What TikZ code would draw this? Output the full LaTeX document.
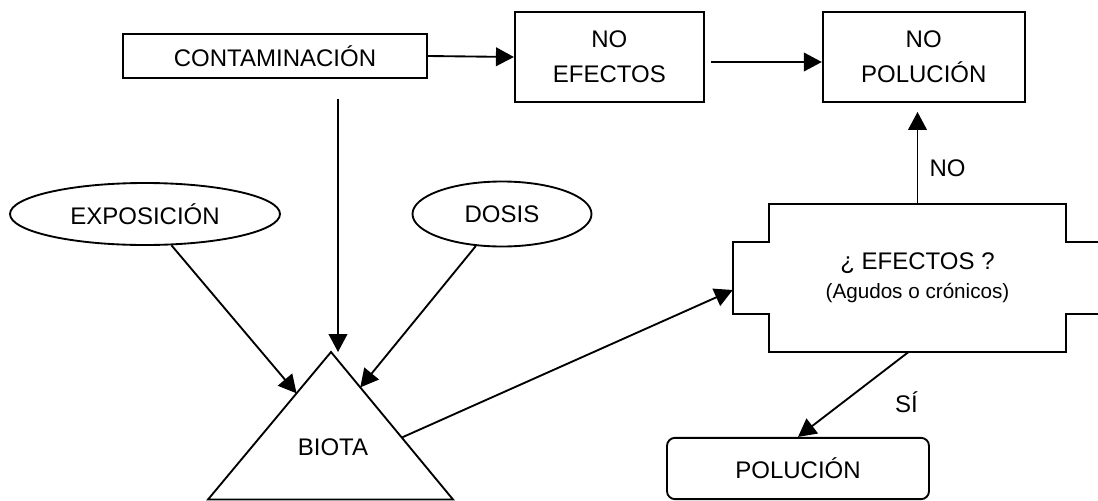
\documentclass[tikz,border=0pt]{standalone}
\usepackage{fontspec}
\setmainfont{Liberation Sans}
\usetikzlibrary{shapes, arrows.meta, positioning, calc}

\begin{document}
\begin{tikzpicture}[
  x=0.75pt, y=-0.75pt,
  every node/.style={font=\fontsize{18}{22}\selectfont},
  box/.style={rectangle, draw, line width=1.4pt, text centered, inner sep=0pt},
  twoline/.style={box, align=center, font=\fontsize{18}{26.5}\selectfont},
  oval/.style={ellipse, draw, line width=1.4pt, inner sep=0pt},
  arrow/.style={-{Triangle[length=13.5pt, width=14pt]}, line width=1.4pt}
]
\useasboundingbox (0,0) rectangle (1098,500);

%% --- Top row ---
\node[box, minimum width=228pt, minimum height=33pt] (contam) at (275,56) {CONTAMINACIÓN};
\node[twoline, minimum width=141.75pt, minimum height=67.5pt,
      right=64.5pt of contam, yshift=-0.75pt] (noefectos) {NO\\EFECTOS};
\node[twoline, minimum width=151.5pt, minimum height=67.5pt,
      right=87.75pt of noefectos] (nopol) {NO\\POLUCIÓN};

%% --- Ellipses ---
\node[oval, minimum width=202.5pt, minimum height=46.5pt] (expo) at (145,214) {EXPOSICIÓN};
\node[oval, minimum width=134.25pt, minimum height=48.75pt] (dosis) at (502,214) {DOSIS};

%% --- Biota triangle ---
\coordinate (apex) at (331,352);
\coordinate (bl) at (208,499.5);
\coordinate (br) at (453,499.5);
\draw[line width=1.4pt] (apex) -- (bl) -- (br) -- cycle;
\node (biota) at (333,447) {BIOTA};

%% --- Efectos (cross-shaped box) ---
\node[align=center, minimum width=222.75pt, minimum height=111pt, inner sep=0pt]
    (efectos) at (917.5,278)
    {¿ EFECTOS ?\\{\fontsize{15.5}{18}\selectfont (Agudos o crónicos)}};
\draw[line width=1.4pt] (efectos.north west) -- (efectos.north east)
    -- ++(0,38) -- ++(36,0) -- ++(0,72) -- ++(-36,0)
    -- (efectos.south east) -- (efectos.south west)
    -- ++(0,-38) -- ++(-36,0) -- ++(0,-72) -- ++(36,0) -- cycle;
\coordinate (efin) at ($(efectos.west)+(-36,12)$);

%% --- Polucion ---
\node[box, rounded corners=6pt, minimum width=196.5pt, minimum height=46pt]
    (pol) at (798,468.5) {POLUCIÓN};

%% --- Connectors ---
\draw[arrow] (contam.east) -- (noefectos.west);
\draw[arrow, shorten <=5pt] ([yshift=-3.75pt]noefectos.east) -- ([yshift=-3.75pt]nopol.west);

\coordinate (drop) at ([xshift=47.25pt]contam.south);
\draw[arrow, shorten <=15pt] (drop) -- (drop |- apex);

\draw[arrow] (expo) -- ($(apex)!0.28!(bl)$);
\draw[arrow] (dosis) -- ($(apex)!0.24!(br)$);
\draw[arrow] ($(apex)!0.58!(br)$) -- (efin);

\draw[arrow, shorten >=6.75pt] (efectos.north) -- (efectos.north |- nopol.south)
    node[pos=0.35, right=5pt] {NO};
\draw[arrow] ([xshift=-7pt]efectos.south) -- (pol.north)
    node[pos=0.59, right=35pt] {SÍ};

\end{tikzpicture}
\end{document}
